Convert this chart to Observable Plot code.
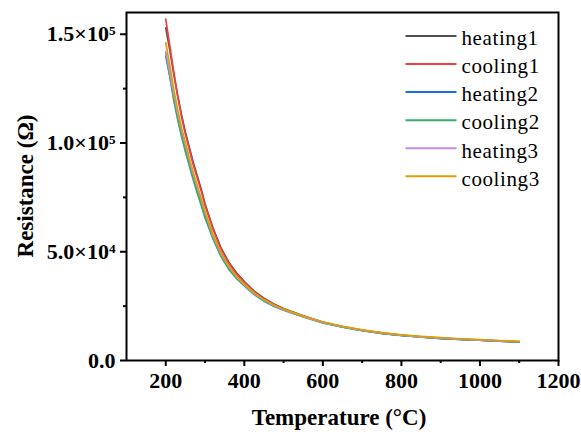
<!DOCTYPE html>
<html><head><meta charset="utf-8">
<script src="https://cdn.jsdelivr.net/npm/d3@7"></script>
<script src="https://cdn.jsdelivr.net/npm/@observablehq/plot@0.6"></script>
<style>
body{margin:0;background:#fff;}
#wrap{position:relative;width:581px;height:432px;}
svg, svg text{font-family:"Liberation Serif","Times New Roman",Times,"DejaVu Serif",serif !important;}
g[aria-label="x-axis tick label"] text, g[aria-label="y-axis tick label"] text{font-weight:bold;}
</style></head><body><div id="wrap"></div>
<script>
// Temperature (°C)
const temperature = [200,210,220,230,240,250,260,270,280,290,300,320,340,360,380,400,425,450,475,500,550,600,650,700,750,800,850,900,950,1000,1050,1100];
// Resistance (Ω)
const heating1 = [153000,143000,132000,122000,113000,105000,98000,91000,85000,79000,72000,61000,52000,45300,40300,36300,31900,28600,26000,23900,20600,17700,15600,14000,12700,11700,10900,10300,9800,9400,9000,8600];
const cooling1 = [157000,145000,133000,122000,112000,104000,97000,90000,84000,78000,71500,60500,51500,44800,39800,35900,31600,28300,25800,23700,20400,17500,15400,13800,12500,11500,10800,10200,9700,9300,8900,8500];
const heating2 = [140000,131000,121000,112000,104000,97000,90500,84000,78000,72500,66500,56500,48500,42500,38000,34500,30500,27500,25100,23200,20100,17400,15400,13800,12500,11500,10800,10200,9700,9300,8900,8500];
const cooling2 = [141000,131000,120000,111000,103000,96000,89500,83000,77000,71500,65500,56000,48000,42000,37700,34300,30300,27300,25000,23100,20000,17300,15300,13700,12500,11500,10700,10100,9700,9300,8900,8600];
const heating3 = [142000,133000,123000,114000,106000,99000,92000,85500,79500,74000,68000,57500,49300,43200,38500,34900,30800,27800,25300,23400,20200,17500,15500,13900,12600,11600,10900,10300,9800,9400,9000,8700];
const cooling3 = [146000,136000,125000,115500,107000,100000,93000,86500,80500,74500,68500,58000,49700,43500,38800,35200,31100,28000,25500,23600,20400,17700,15700,14100,12800,11800,11100,10500,10000,9600,9200,8800];

const seriesNames = ["heating1","cooling1","heating2","cooling2","heating3","cooling3"];
const seriesValues = [heating1, cooling1, heating2, cooling2, heating3, cooling3];
const seriesColors = ["#515151","#F14040","#1A6FDF","#37AD6B","#C98AE8","#DDA000"];

const xTicks = [200,400,600,800,1000,1200];
const xMinorTicks = [300,500,700,900,1100];
const yTicks = [0,50000,100000,150000];
const yMinorTicks = [25000,75000,125000];
const xTitle = "Temperature (°C)";
const yTitle = "Resistance (Ω)";

const sup = {"0":"⁰","1":"¹","2":"²","3":"³","4":"⁴","5":"⁵","6":"⁶","7":"⁷","8":"⁸","9":"⁹"};
function sciFormat(d){
  if (d === 0) return "0.0";
  const e = Math.floor(Math.log10(d));
  const m = d / Math.pow(10, e);
  return m.toFixed(1) + "×10" + String(e).split("").map(c => sup[c]).join("");
}

const rows = [];
seriesNames.forEach((name, i) => {
  temperature.forEach((t, j) => rows.push({series: name, T: t, R: seriesValues[i][j]}));
});

const W = 581, H = 432, mL = 126, mR = 23, mT = 12, mB = 72;
const FONT = "Liberation Serif, Times New Roman, serif";

const plot = Plot.plot({
  width: W, height: H,
  marginLeft: mL, marginRight: mR, marginTop: mT, marginBottom: mB,
  style: {background: "white", color: "black", fontFamily: FONT, overflow: "visible"},
  x: {domain: [100, 1200]},
  y: {domain: [0, 160000]},
  color: {domain: seriesNames, range: seriesColors},
  marks: [
    Plot.line(rows, {x: "T", y: "R", z: "series", stroke: "series", strokeWidth: 1.7}),
    Plot.axisX({ticks: xTicks, tickSize: 6, strokeWidth: 2, tickPadding: 6, fontSize: 22, fontWeight: "bold", tickFormat: d => String(d), label: null}),
    Plot.axisX({ticks: xMinorTicks, tickSize: 3, strokeWidth: 2, tickFormat: () => "", label: null}),
    Plot.axisY({ticks: yTicks, tickSize: 6, strokeWidth: 2, tickPadding: 5, fontSize: 22, fontWeight: "bold", tickFormat: sciFormat, label: null}),
    Plot.axisY({ticks: yMinorTicks, tickSize: 3, strokeWidth: 2, tickFormat: () => "", label: null}),
    Plot.frame({stroke: "black", strokeWidth: 2})
  ]
});

document.getElementById("wrap").appendChild(plot);
const svg = d3.select(plot);

// axis titles
svg.append("text")
  .attr("x", mL + (W - mL - mR) / 2 - 3).attr("y", 425)
  .attr("text-anchor", "middle")
  .style("font-size", "23px").style("font-weight", "bold").attr("fill", "black")
  .text(xTitle);
svg.append("text")
  .attr("transform", `translate(33,186) rotate(-90)`)
  .attr("text-anchor", "middle")
  .style("font-size", "23px").style("font-weight", "bold").attr("fill", "black")
  .text(yTitle);

// legend
const lg = svg.append("g").attr("text-anchor", "start");
seriesNames.forEach((name, i) => {
  const y = 36 + 28.05 * i;
  lg.append("line").attr("x1", 405.5).attr("x2", 456.5).attr("y1", y).attr("y2", y)
    .attr("stroke", seriesColors[i]).attr("stroke-width", 2);
  lg.append("text").attr("x", 461.5).attr("y", y + 9.3)
    .attr("text-anchor", "start")
    .style("font-size", "21px").style("letter-spacing", "0.6px").attr("fill", "black")
    .text(name);
});
</script>
</body></html>
